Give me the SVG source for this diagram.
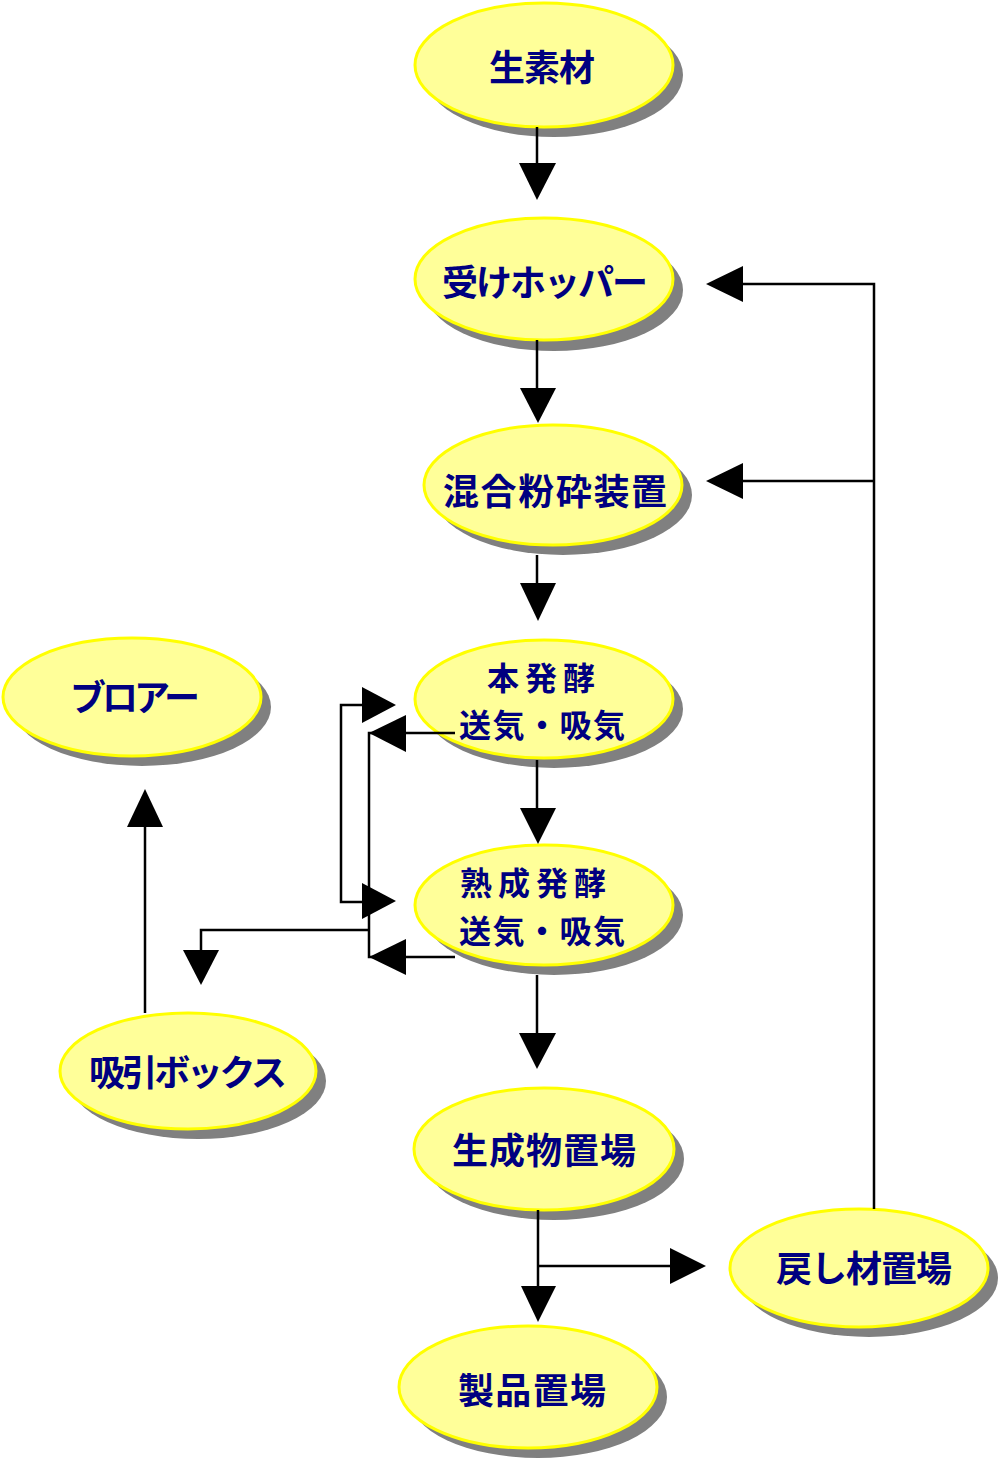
<svg xmlns="http://www.w3.org/2000/svg" width="1000" height="1463" viewBox="0 0 1000 1463">
<style>
.sh{fill:#808080}
.el{fill:#FFFF99;stroke:#FFFF00;stroke-width:3}
.t{font-family:"Noto Sans CJK JP","Liberation Sans",sans-serif;font-weight:bold;font-size:36px;fill:#000080;text-anchor:middle;dominant-baseline:central}
.t2{font-size:32px}
.ln{fill:none;stroke:#000;stroke-width:2.5}
.ah{fill:#000}
</style>
<rect width="1000" height="1463" fill="#fff"/>
<g id="n-namazai">
<ellipse class="sh" cx="554" cy="75" rx="129" ry="62"/>
<ellipse class="el" cx="544" cy="65" rx="129" ry="62"/>
<text class="t" x="542" y="65" textLength="106">生素材</text>
</g>
<g id="n-hopper">
<ellipse class="sh" cx="554" cy="290" rx="129" ry="61"/>
<ellipse class="el" cx="544" cy="279" rx="129" ry="61"/>
<text class="t" x="545" y="280" textLength="206">受けホッパー</text>
</g>
<g id="n-mix">
<ellipse class="sh" cx="563" cy="495" rx="129" ry="60"/>
<ellipse class="el" cx="553" cy="485" rx="129" ry="60"/>
<text class="t" x="555" y="489" textLength="224">混合粉砕装置</text>
</g>
<g id="n-main">
<ellipse class="sh" cx="554" cy="709" rx="129" ry="59"/>
<ellipse class="el" cx="544" cy="699" rx="129" ry="59"/>
<text class="t t2" x="541" y="675.5" textLength="108">本発酵</text>
<text class="t t2" x="542" y="722.5" textLength="166">送気・吸気</text>
</g>
<g id="n-aging">
<ellipse class="sh" cx="554" cy="915" rx="129" ry="60"/>
<ellipse class="el" cx="544" cy="905" rx="129" ry="60"/>
<text class="t t2" x="533" y="881" textLength="146">熟成発酵</text>
<text class="t t2" x="542" y="928.5" textLength="166">送気・吸気</text>
</g>
<g id="n-blower">
<ellipse class="sh" cx="142" cy="707" rx="129" ry="59"/>
<ellipse class="el" cx="132" cy="697" rx="129" ry="59"/>
<text class="t" x="135" y="695" textLength="130">ブロアー</text>
</g>
<g id="n-suction">
<ellipse class="sh" cx="198" cy="1081" rx="128" ry="58"/>
<ellipse class="el" cx="188" cy="1071" rx="128" ry="58"/>
<text class="t" x="188" y="1070" textLength="198">吸引ボックス</text>
</g>
<g id="n-product-yard">
<ellipse class="sh" cx="554" cy="1159" rx="130" ry="61"/>
<ellipse class="el" cx="544" cy="1149" rx="130" ry="61"/>
<text class="t" x="544" y="1148" textLength="184">生成物置場</text>
</g>
<g id="n-return">
<ellipse class="sh" cx="869" cy="1278" rx="129" ry="59"/>
<ellipse class="el" cx="859" cy="1268" rx="129" ry="59"/>
<text class="t" x="864" y="1266" textLength="176">戻し材置場</text>
</g>
<g id="n-goods">
<ellipse class="sh" cx="538" cy="1397" rx="129" ry="61"/>
<ellipse class="el" cx="528" cy="1387" rx="129" ry="61"/>
<text class="t" x="532" y="1388" textLength="148">製品置場</text>
</g>
<g id="connectors">
<path class="ln" stroke-width="3" d="M537,127V165"/>
<polygon class="ah" points="519,163 556,163 537,200"/>
<path class="ln" stroke-width="3" d="M537,340V390"/>
<polygon class="ah" points="520,388 556,388 538,423"/>
<path class="ln" stroke-width="3" d="M537,555V585"/>
<polygon class="ah" points="520,583 556,583 538,621"/>
<path class="ln" stroke-width="3" d="M537,760V810"/>
<polygon class="ah" points="520,808 556,808 538,844"/>
<path class="ln" stroke-width="3" d="M537,975V1035"/>
<polygon class="ah" points="519,1033 556,1033 537,1069"/>
<path class="ln" stroke-width="3" d="M538,1210V1288"/>
<polygon class="ah" points="521,1286 556,1286 538,1322"/>
<path class="ln" d="M538,1266H672"/>
<polygon class="ah" points="670,1248 670,1284 706,1266"/>
<path class="ln" d="M874,1209V284H741"/>
<polygon class="ah" points="743,266 743,302 706,284"/>
<path class="ln" d="M874,481H741"/>
<polygon class="ah" points="743,463 743,499 706,481"/>
<path class="ln" d="M364,705H341V902H364"/>
<polygon class="ah" points="362,687 362,723 396,705"/>
<polygon class="ah" points="362,883 362,919 396,901"/>
<path class="ln" d="M455,733H369V957H455"/>
<polygon class="ah" points="406,715 406,752 369,733"/>
<polygon class="ah" points="406,939 406,975 369,957"/>
<path class="ln" d="M369,930H201V952"/>
<polygon class="ah" points="183,950 219,950 201,985"/>
<path class="ln" d="M145,1013V825"/>
<polygon class="ah" points="127,827 163,827 145,789"/>
</g>
</svg>
